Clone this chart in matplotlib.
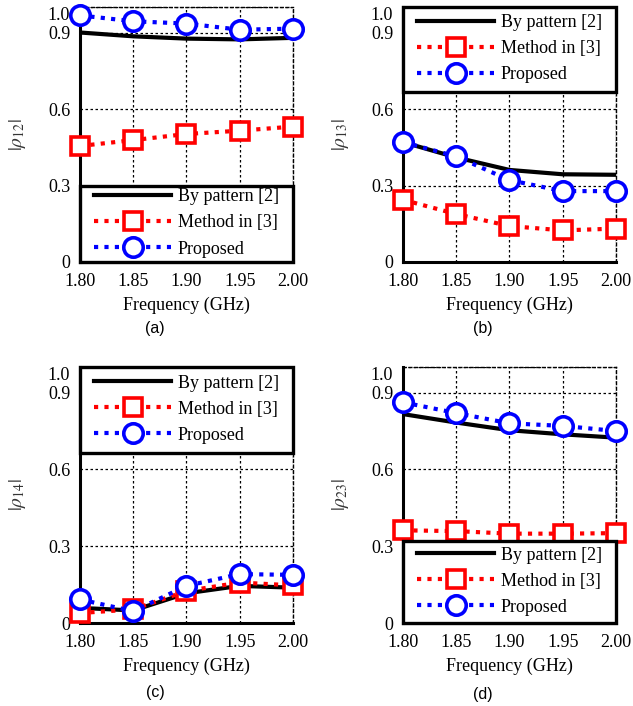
import matplotlib
matplotlib.use("Agg")
import matplotlib.pyplot as plt
from matplotlib.lines import Line2D
from matplotlib.patches import Rectangle

freq = [1.80, 1.85, 1.90, 1.95, 2.00]
xtick_labels = ["1.80", "1.85", "1.90", "1.95", "2.00"]
yticks = [0, 0.3, 0.6, 0.9, 1.0]
ytick_labels = ["0", "0.3", "0.6", "0.9", "1.0"]

# (a) rho12
a_pattern = [0.900, 0.885, 0.876, 0.873, 0.879]
a_method = [0.455, 0.478, 0.502, 0.515, 0.531]
a_proposed = [0.967, 0.944, 0.935, 0.911, 0.915]
# (b) rho13
b_pattern = [0.470, 0.410, 0.361, 0.344, 0.342]
b_method = [0.244, 0.188, 0.141, 0.124, 0.131]
b_proposed = [0.470, 0.414, 0.321, 0.278, 0.278]
# (c) rho14
c_pattern = [0.059, 0.049, 0.116, 0.145, 0.138]
c_method = [0.039, 0.053, 0.125, 0.158, 0.147]
c_proposed = [0.092, 0.046, 0.145, 0.191, 0.188]
# (d) rho23
d_pattern = [0.816, 0.783, 0.753, 0.737, 0.724]
d_method = [0.362, 0.359, 0.349, 0.349, 0.351]
d_proposed = [0.862, 0.820, 0.780, 0.770, 0.750]

legend_labels = ["By pattern [2]", "Method in [3]", "Proposed"]
ylabels = [r"$|\rho_{12}|$", r"$|\rho_{13}|$", r"$|\rho_{14}|$", r"$|\rho_{23}|$"]
panel_tags = ["(a)", "(b)", "(c)", "(d)"]

plt.rcParams["font.family"] = ["Liberation Serif", "DejaVu Serif"]
plt.rcParams["mathtext.fontset"] = "stix"

fig = plt.figure(figsize=(6.33, 7.06), dpi=100)
W, H = 633, 706
boxes = [(80, 7, 293, 262), (403, 7, 616, 262), (80, 367, 293, 623), (403, 367, 616, 623)]
# legend frame (bottom, top) in axes fraction
legend_frames = [(0.0, 0.30), (0.665, 1.0), (0.665, 1.0), (0.0, 0.32)]
tag_pos = [(155, 328), (483, 328), (155, 692), (483, 694)]

series = [
    (a_pattern, a_method, a_proposed),
    (b_pattern, b_method, b_proposed),
    (c_pattern, c_method, c_proposed),
    (d_pattern, d_method, d_proposed),
]

dot = (0, (1, 1.5))

for i, (box, (pat, meth, prop)) in enumerate(zip(boxes, series)):
    x0, y0, x1, y1 = box
    ax = fig.add_axes([x0 / W, 1 - y1 / H, (x1 - x0) / W, (y1 - y0) / H])
    ax.plot(freq, pat, color="black", lw=3, solid_capstyle="butt", zorder=3)
    ax.plot(freq, meth, color="red", lw=3, linestyle=dot, marker="s",
            markersize=13.5, markerfacecolor="white", markeredgecolor="red",
            markeredgewidth=2.6, zorder=4, clip_on=False)
    ax.plot(freq, prop, color="blue", lw=3, linestyle=dot, marker="o",
            markersize=14, markerfacecolor="white", markeredgecolor="blue",
            markeredgewidth=2.6, zorder=5, clip_on=False)
    ax.set_xlim(1.80, 2.00)
    ax.set_ylim(0, 1.0)
    ax.set_xticks(freq)
    ax.set_xticklabels(xtick_labels)
    ax.set_yticks(yticks)
    ax.set_yticklabels(ytick_labels)
    for lab in ax.get_yticklabels():
        if lab.get_text() == "1.0":
            lab.set_va("top")
    ax.tick_params(axis="y", length=0, labelsize=13, pad=7)
    ax.tick_params(axis="x", length=0, labelsize=13, pad=8)
    ax.grid(True, color="black", linestyle=(0, (2, 2)), lw=0.9)
    for s in ["left", "bottom"]:
        ax.spines[s].set_linewidth(2.2)
    for s in ["top", "right"]:
        ax.spines[s].set_linestyle((0, (2, 2)))
        ax.spines[s].set_linewidth(1.0)
    ax.set_xlabel("Frequency (GHz)", fontsize=13, labelpad=5)
    ax.set_ylabel(ylabels[i], fontsize=14, color="#333333", labelpad=14)

    fb, ft = legend_frames[i]
    rect = Rectangle((0, fb), 1, ft - fb, transform=ax.transAxes, facecolor="white",
                     edgecolor="black", lw=2.4, zorder=9, clip_on=False)
    ax.add_patch(rect)

    handles = [
        Line2D([], [], color="black", lw=3),
        Line2D([], [], color="red", lw=3, linestyle=dot, marker="s",
               markersize=13.5, markerfacecolor="white", markeredgecolor="red", markeredgewidth=2.6),
        Line2D([], [], color="blue", lw=3, linestyle=dot, marker="o",
               markersize=14, markerfacecolor="white", markeredgecolor="blue", markeredgewidth=2.6),
    ]
    leg = ax.legend(handles, legend_labels, loc="center left",
                    bbox_to_anchor=(0.065, (fb + ft) / 2 + 0.003),
                    borderaxespad=0, borderpad=0, fontsize=13, handlelength=4.3,
                    handletextpad=0.35, labelspacing=0.5, frameon=False)
    leg.set_zorder(10)

    tx, ty = tag_pos[i]
    fig.text(tx / W, 1 - ty / H, panel_tags[i], ha="center", va="center",
             fontsize=11.5, family=["Liberation Sans", "DejaVu Sans"])

fig.savefig("out.png", dpi=100)
